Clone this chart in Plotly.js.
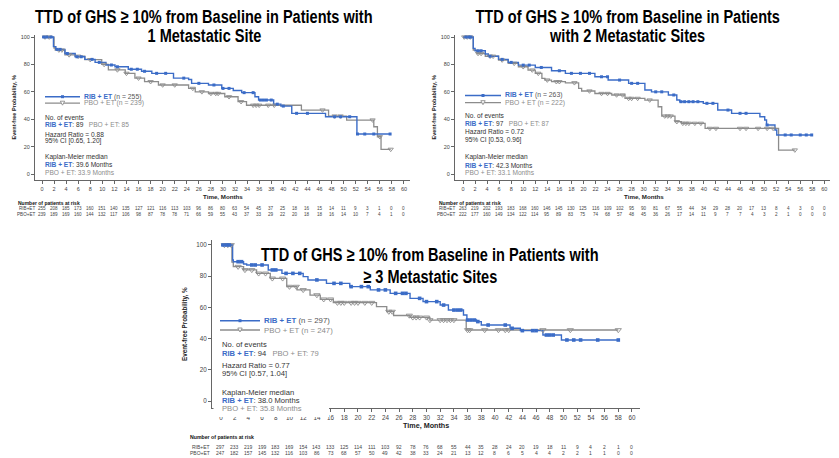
<!DOCTYPE html>
<html><head><meta charset="utf-8">
<script src="https://cdn.plot.ly/plotly-3.0.1.min.js"></script>
<style>html,body{margin:0;padding:0;background:#fff;}#chart{width:839px;height:458px;}</style>
</head><body><div id="chart"></div>
<script>
// ---------- DATA ----------
var xTicks = [0,2,4,6,8,10,12,14,16,18,20,22,24,26,28,30,32,34,36,38,40,42,44,46,48,50,52,54,56,58,60];
var yTicks = [0,20,40,60,80,100];

// Panel 1: 1 metastatic site
var p1RibT = [0,1.9,2.3,3.8,5.5,7.1,8.8,10.6,12.1,14.3,16.5,18.2,21.8,24.3,24.8,27.6,29.8,31.7,33.1,35.3,35.9,38.4,39.6,41.4,47,52.2,57.7];
var p1RibS = [100,93,91,88,85.6,83.7,81.5,79.6,78.3,76.5,75,73.5,70,69,66.2,65,62.5,61,59.4,56.4,54,51,49.6,44.3,41.8,29.2,29.2];
var p1PboT = [0,2.0,2.2,3.8,5.5,7.1,9.9,11.0,13.8,15.4,17.0,19.3,24.3,25.4,27.6,30.3,32.5,33.9,43,47.5,50.5,55.0,55.6,56.2,57.8];
var p1PboS = [100,92,90.5,87,86,83.5,80,76,73.5,70,67.4,65,62.5,60,58.8,56.4,52.8,50.2,46.7,42.3,39.4,34.5,27.2,18,18];
var p1RibCens = [0.3,0.8,1.5,2.5,3.0,4.2,5.8,6.5,8.3,9.5,11.5,12.5,14.8,15.8,17.0,19.0,20.5,23.5,26.0,28.5,30.0,31.0,33.5,35.0,36.2,36.7,37.2,38.0,39.0,40.0,42.2,44.0,48.5,49.5,51.0,52.3,53.5,55.0,57.7];
var p1PboCens = [0.5,1.2,2.8,3.3,4.5,6.0,8.0,10.3,12.5,14.0,16.0,18.0,20.0,22.0,25.0,26.5,28.0,28.8,29.2,31.0,33.0,35.0,35.5,36.0,37.5,38.5,46.5,48.5,49.5,54.8,56.0,57.8];
var p1RiskRib = [255,208,185,173,160,151,140,135,127,121,116,113,103,96,86,80,63,54,45,37,25,18,16,15,14,11,9,3,1,0,0];
var p1RiskPbo = [239,189,169,160,144,132,117,106,98,87,78,78,71,66,59,55,43,37,33,29,22,20,18,18,16,14,10,7,4,1,0];
var p1Title = ["TTD of GHS \u2265 10% from Baseline in Patients with", "1 Metastatic Site"];
var p1N = [255, 239];
var p1Events = [89, 85];
var p1HR = "Hazard Ratio = 0.88";
var p1CI = "95% CI [0.65, 1.20]";
var p1Median = ["39.6", "33.9"];

// Panel 2: 2 metastatic sites
var p2RibT = [0,1.7,2.0,3.7,4.2,5.9,7.5,9.2,12.0,14.7,17.0,21.9,24.1,27.5,30.2,31.3,34.1,35.5,36.0,39.9,42.3,44.6,49.3,50.1,50.4,51.8,52.1,57.9];
var p2RibS = [100,91.7,90,87.6,86,83.7,81.5,79.5,77.8,75.4,73.5,71,68.6,66.2,61.3,60,57.7,54,52.8,51.6,46.7,44.3,41.8,39.4,35.8,32.1,28.5,28.5];
var p2PboT = [0,1.7,2.3,3.7,5.9,7.5,9.2,10.8,12.0,13.1,13.6,14.7,17.0,19.2,19.7,21.9,24.7,26.9,30.2,32.4,33.0,35.2,36.3,40.2,52.4,55.1];
var p2PboS = [100,90.5,88,86,83.2,80.8,78.3,75.9,73.5,69.8,68.6,67.4,66.6,62.5,60.6,58.8,57.7,55.2,54,49.1,42.3,38.2,37,33.3,17.5,17.5];
var p2RibCens = [0.5,1.0,1.3,2.5,3.0,4.5,6.5,8.0,10.0,11.0,13.0,16.0,18.0,19.5,21.0,23.0,24.0,26.0,28.0,29.0,32.0,33.0,35.0,36.2,36.8,37.5,38.2,39.0,40.5,41.5,44.0,46.0,47.0,50.5,53.5,54.5,56.0,57.0,57.9];
var p2PboCens = [0.2,0.7,1.2,2.5,3.0,4.5,5.0,6.5,8.5,10.0,11.5,12.5,14.0,15.5,16.0,18.5,21.0,23.0,24.0,25.5,26.5,27.5,28.0,29.0,31.0,33.5,34.0,34.5,35.5,36.5,37.0,37.5,38.5,39.5,41.0,42.0,46.0,47.0,49.0,50.5,51.5,55.1];
var p2RiskRib = [263,219,202,193,183,168,160,146,145,130,125,116,109,102,95,90,81,67,55,44,34,29,28,20,17,13,8,4,3,0,0];
var p2RiskPbo = [222,177,160,149,134,122,114,95,89,83,75,74,68,57,48,45,36,26,17,14,11,9,7,7,4,3,2,1,0,0,0];
var p2Title = ["TTD of GHS \u2265 10% from Baseline in Patients", "with 2 Metastatic Sites"];
var p2N = [263, 222];
var p2Events = [97, 87];
var p2HR = "Hazard Ratio = 0.72";
var p2CI = "95% CI [0.53, 0.96]";
var p2Median = ["42.3", "33.1"];

// Panel 3: >= 3 metastatic sites
var p3RibT = [0,1.7,1.8,3.3,3.75,6.9,8.9,12.0,12.7,15.4,18.8,21.8,24.7,27.6,29.5,32.0,33.2,35.4,35.9,37.3,38.0,42.2,43.7,47.0,49.7,58.2];
var p3RibS = [100,90.4,89.3,87.8,87.2,84,81.8,79.7,77.6,75.4,73.3,71.2,69,65.8,63.7,61.5,58.3,55.1,51.9,50.9,48.7,46.6,45.1,42.3,39.1,39.1];
var p3PboT = [0,1.6,1.8,3.3,5.2,7.2,9.6,11.1,13.0,14.5,16.4,22.7,24.2,25.2,27.6,30.5,35.8,58.0];
var p3PboS = [100,89,86.1,84,81.8,78.6,73.3,71.2,67.9,65.2,63,60.5,57.3,54.8,53.6,51.9,45.5,45.5];
var p3RibCens = [0.3,0.8,1.2,2.5,3.0,4.5,5.0,6.0,7.5,8.0,9.5,10.5,11.5,14.0,16.5,17.5,19.0,20.5,21.5,23.0,24.0,25.5,26.5,27.0,29.0,30.0,31.5,32.5,34.0,34.5,35.0,36.0,36.5,37.0,37.5,39.0,41.5,42.5,44.0,45.5,46.0,47.5,48.0,48.5,50.5,51.5,52.5,55.0,58.0];
var p3PboCens = [0.5,1.0,1.5,2.5,3.5,4.5,5.5,6.5,7.5,9.0,10.0,11.0,12.0,14.0,15.0,16.0,17.0,17.5,18.0,19.0,19.5,20.0,21.0,22.0,24.5,25.0,27.5,28.0,28.5,29.0,30.0,30.5,32.0,32.5,33.0,33.5,34.0,36.0,36.3,38.5,40.5,41.5,42.0,47.0,51.0,58.0];
var p3RiskRib = [297,233,219,199,183,169,154,143,133,125,114,111,103,92,78,76,68,55,44,35,28,24,20,19,18,11,9,4,2,1,0];
var p3RiskPbo = [247,182,157,145,132,116,103,86,73,68,57,50,49,42,38,33,24,21,13,12,8,6,5,4,4,2,2,1,1,0,0];
var p3Title = ["TTD of GHS \u2265 10% from Baseline in Patients with", "\u2265 3 Metastatic Sites"];
var p3N = [297, 247];
var p3Events = [94, 79];
var p3HR = "Hazard Ratio = 0.77";
var p3CI = "95% CI [0.57, 1.04]";
var p3Median = ["38.0", "35.8"];

// ---------- STYLE ----------
var BLUE = "#3b6cc7", GRAY = "#8c8c8c", DARK = "#333333", AXC = "#666666";
var W = 839, H = 458;
function px(x){ return x / W; }
function py(y){ return 1 - y / H; }
function stepAt(ts, ss, c){ var v = ss[0]; for (var i=0;i<ts.length;i++){ if (ts[i] <= c) v = ss[i]; } return v; }

var panels = [
  {ax:"", ribT:p1RibT, ribS:p1RibS, pboT:p1PboT, pboS:p1PboS, ribC:p1RibCens, pboC:p1PboCens, riskR:p1RiskRib, riskP:p1RiskPbo, title:p1Title, n:p1N, ev:p1Events, hr:p1HR, ci:p1CI, med:p1Median,
   box:[35,410,35,180], xr:[-1.16,61.0], yr:[-4.38,101.5], tf:5.5, sf:6.6, lf:6.8, titleX:204, titleY:[16.5,35],
   legX:[45,80], legY:[96.7,103.2], txtX:43, stY:[117.3,124.7,134,141,157.3,164.7,172.3],
   ytX:13, xtY:196, xtF:6.2, riskHdr:[16,203], riskY:[208.5,214.3], riskLabX:37, rf:4.6, rhf:5, ms:[4.6,3]},
  {ax:"2", ribT:p2RibT, ribS:p2RibS, pboT:p2PboT, pboS:p2PboS, ribC:p2RibCens, pboC:p2PboCens, riskR:p2RiskRib, riskP:p2RiskPbo, title:p2Title, n:p2N, ev:p2Events, hr:p2HR, ci:p2CI, med:p2Median,
   box:[455,830,35,180], xr:[-1.33,60.94], yr:[-4.38,101.5], tf:5.5, sf:6.6, lf:6.8, titleX:627, titleY:[16.5,35],
   legX:[465,501], legY:[95.5,102.7], txtX:463, stY:[115.5,123.5,131,140,157.3,165,172.7],
   ytX:433, xtY:196, xtF:6.2, riskHdr:[437,203], riskY:[208.5,214.3], riskLabX:457, rf:4.6, rhf:5, ms:[4.6,3]},
  {ax:"3", ribT:p3RibT, ribS:p3RibS, pboT:p3PboT, pboS:p3PboS, ribC:p3RibCens, pboC:p3PboCens, riskR:p3RiskRib, riskP:p3RiskPbo, title:p3Title, n:p3N, ev:p3Events, hr:p3HR, ci:p3CI, med:p3Median,
   box:[212,640,240,408], xr:[-1.31,61.17], yr:[-4.49,103.2], tf:6.3, sf:7.6, lf:7.8, titleX:430, titleY:[254.5,276],
   legX:[220,260], legY:[320.7,330], txtX:220, stY:[344,353.3,365,373.3,392.3,400,408.5],
   ytX:185, xtY:425, xtF:7.2, riskHdr:[188,437], riskY:[446.5,453], riskLabX:212, rf:5.0, rhf:5.2, ms:[5.4,3.6]}
];

var data = [], annotations = [], shapes = [];
var layout = {width:W, height:H, margin:{l:0,r:0,t:0,b:0}, paper_bgcolor:"#fff", plot_bgcolor:"rgba(0,0,0,0)",
  showlegend:false, font:{family:"Liberation Sans, Arial, sans-serif", color:DARK}};
var TF = "Liberation Sans, Arial, sans-serif";

panels.forEach(function(p){
  var xa = "x"+p.ax, ya = "y"+p.ax;
  var xkey = "xaxis"+p.ax, ykey = "yaxis"+p.ax;
  layout[xkey] = {domain:[px(p.box[0]), px(p.box[1])], range:p.xr, anchor:ya, showline:true, linecolor:AXC, linewidth:1,
    ticks:"outside", ticklen:3, tickwidth:1, tickcolor:AXC, tickmode:"array", tickvals:xTicks,
    tickfont:{size:p.tf, color:"#444"}, showgrid:false, zeroline:false, fixedrange:true};
  layout[ykey] = {domain:[py(p.box[3]), py(p.box[2])], range:p.yr, anchor:xa, showline:true, linecolor:AXC, linewidth:1,
    ticks:"outside", ticklen:3, tickwidth:1, tickcolor:AXC, tickmode:"array", tickvals:yTicks,
    tickfont:{size:p.tf, color:"#444"}, showgrid:false, zeroline:false, fixedrange:true};

  data.push({x:p.pboT, y:p.pboS, xaxis:xa, yaxis:ya, mode:"lines", line:{shape:"hv", color:GRAY, width:1.3}, hoverinfo:"skip"});
  data.push({x:p.ribT, y:p.ribS, xaxis:xa, yaxis:ya, mode:"lines", line:{shape:"hv", color:BLUE, width:1.4}, hoverinfo:"skip"});
  data.push({x:p.pboC, y:p.pboC.map(function(c){return stepAt(p.pboT,p.pboS,c);}), xaxis:xa, yaxis:ya, mode:"markers",
    marker:{symbol:"triangle-down-open", size:p.ms[0], color:GRAY, line:{width:0.9, color:GRAY}}, hoverinfo:"skip"});
  data.push({x:p.ribC, y:p.ribC.map(function(c){return stepAt(p.ribT,p.ribS,c);}), xaxis:xa, yaxis:ya, mode:"markers",
    marker:{symbol:"square", size:p.ms[1], color:BLUE}, hoverinfo:"skip"});

  // titles
  [0,1].forEach(function(i){
    annotations.push({text:"<b>"+p.title[i]+"</b>", x:px(p.titleX), y:py(p.titleY[i]), xref:"paper", yref:"paper",
      xanchor:"center", yanchor:"middle", showarrow:false, font:{family:TF, size:18.5, color:"#000"}, name:"title"});
  });
  // legend
  var lx0 = p.legX[0], lx1 = p.legX[1], lm = (lx0+lx1)/2;
  shapes.push({type:"line", xref:"paper", yref:"paper", x0:px(lx0), x1:px(lx1), y0:py(p.legY[0]), y1:py(p.legY[0]), line:{color:BLUE, width:1.4}});
  shapes.push({type:"rect", xref:"paper", yref:"paper", x0:px(lm-1.5), x1:px(lm+1.5), y0:py(p.legY[0]-1.5), y1:py(p.legY[0]+1.5), fillcolor:BLUE, line:{width:0}});
  shapes.push({type:"line", xref:"paper", yref:"paper", x0:px(lx0), x1:px(lx1), y0:py(p.legY[1]), y1:py(p.legY[1]), line:{color:GRAY, width:1.3}});
  shapes.push({type:"path", xref:"paper", yref:"paper",
    path:"M "+px(lm-2.2)+" "+py(p.legY[1]-2)+" L "+px(lm+2.2)+" "+py(p.legY[1]-2)+" L "+px(lm)+" "+py(p.legY[1]+2)+" Z",
    fillcolor:"#fff", line:{color:GRAY, width:0.9}});
  annotations.push({text:"<b><span style='color:"+BLUE+"'>RIB + ET</span></b> (n = "+p.n[0]+")", x:px(lx1+1.5), y:py(p.legY[0]),
    xref:"paper", yref:"paper", xanchor:"left", yanchor:"middle", showarrow:false, font:{size:p.lf, color:"#555"}});
  annotations.push({text:"PBO + ET (n = "+p.n[1]+")", x:px(lx1+1.5), y:py(p.legY[1]),
    xref:"paper", yref:"paper", xanchor:"left", yanchor:"middle", showarrow:false, font:{size:p.lf, color:GRAY}});

  // stats block
  var rb = "<b><span style='color:"+BLUE+"'>RIB + ET</span></b>";
  var lines = [
    "No. of events",
    rb+": "+p.ev[0]+"\u00a0\u00a0\u00a0<span style='color:"+GRAY+"'>PBO + ET: "+p.ev[1]+"</span>",
    p.hr, p.ci,
    "Kaplan-Meier median",
    rb+": "+p.med[0]+" Months",
    "<span style='color:"+GRAY+"'>PBO + ET: "+p.med[1]+" Months</span>"
  ];
  lines.forEach(function(t,i){
    annotations.push({text:t, x:px(p.txtX), y:py(p.stY[i]), xref:"paper", yref:"paper", xanchor:"left", yanchor:"middle",
      showarrow:false, font:{size:p.sf, color:DARK}});
  });
  // axis titles
  annotations.push({text:"<b>Event-free Probability, %</b>", x:px(p.ytX), y:py((p.box[2]+p.box[3])/2), xref:"paper", yref:"paper",
    textangle:-90, xanchor:"center", yanchor:"middle", showarrow:false, font:{size:p.tf, color:"#222"}});
  annotations.push({text:"<b>Time, Months</b>", x:30, xref:xa, y:py(p.xtY), yref:"paper", xanchor:"center", yanchor:"middle",
    showarrow:false, font:{size:p.xtF, color:"#222"}});
  // risk table
  annotations.push({text:"<b>Number of patients at risk</b>", x:px(p.riskHdr[0]), y:py(p.riskHdr[1]), xref:"paper", yref:"paper",
    xanchor:"left", yanchor:"middle", showarrow:false, font:{size:p.rhf, color:"#111"}});
  annotations.push({text:"RIB+ET", x:px(p.riskLabX), y:py(p.riskY[0]), xref:"paper", yref:"paper", xanchor:"right", yanchor:"middle",
    showarrow:false, font:{size:p.rf, color:"#444"}});
  annotations.push({text:"PBO+ET", x:px(p.riskLabX), y:py(p.riskY[1]), xref:"paper", yref:"paper", xanchor:"right", yanchor:"middle",
    showarrow:false, font:{size:p.rf, color:"#444"}});
  xTicks.forEach(function(t,i){
    annotations.push({text:String(p.riskR[i]), x:t, xref:xa, y:py(p.riskY[0]), yref:"paper", xanchor:"center", yanchor:"middle",
      showarrow:false, font:{size:p.rf, color:"#444"}});
    annotations.push({text:String(p.riskP[i]), x:t, xref:xa, y:py(p.riskY[1]), yref:"paper", xanchor:"center", yanchor:"middle",
      showarrow:false, font:{size:p.rf, color:"#444"}});
  });
});

// white box of the panel-3 text block that hides part of its x axis
shapes.push({type:"rect", xref:"paper", yref:"paper", x0:px(213.5), x1:px(329), y0:py(417), y1:py(386), fillcolor:"#fff", line:{width:0}, layer:"above"});

layout.annotations = annotations;
layout.shapes = shapes;
Plotly.newPlot("chart", data, layout, {staticPlot:true, displayModeBar:false}).then(function(gd){
  // condense the bold titles horizontally (the reference uses a narrow typeface)
  var titleTexts = [].concat(p1Title, p2Title, p3Title);
  var nodes = Array.prototype.slice.call(gd.querySelectorAll("text.annotation-text")).filter(function(t){
    return titleTexts.indexOf(t.textContent) >= 0;
  });
  var ref = nodes.filter(function(t){ return t.textContent === p1Title[0]; })[0];
  var s = ref ? 338 / ref.getBBox().width : 0.82;
  nodes.forEach(function(t){
    var b = t.getBBox(), cx = b.x + b.width/2;
    t.setAttribute("transform", "translate(" + cx + ",0) scale(" + s + ",1) translate(" + (-cx) + ",0)");
  });
});
</script></body></html>
